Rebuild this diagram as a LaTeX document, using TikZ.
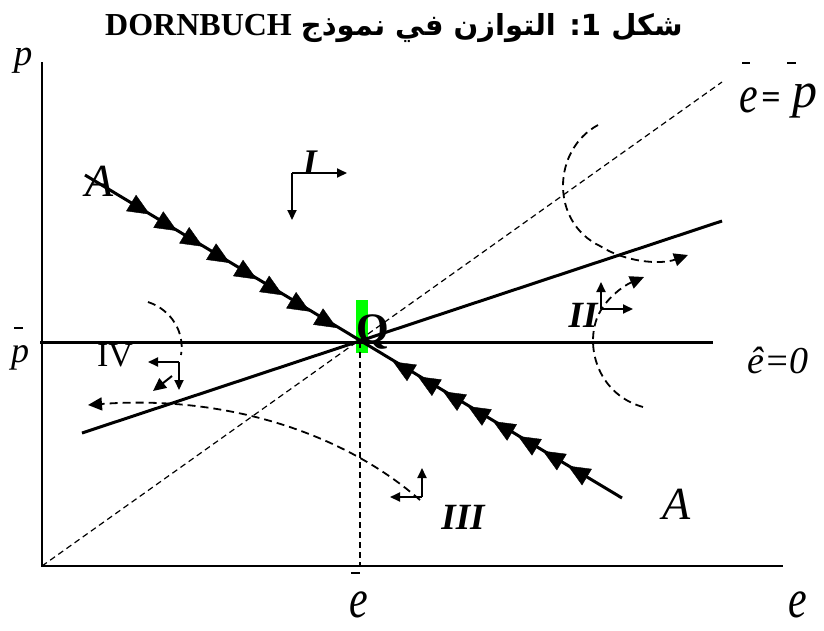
\documentclass[tikz,border=0pt]{standalone}
\usepackage{fontspec}
\setmainfont{Liberation Serif}
\newfontfamily\serif{Liberation Serif}
\newfontfamily\arabicfont[Script=Arabic]{DejaVu Sans}
\usetikzlibrary{arrows.meta,decorations.markings}
\TeXXeTstate=1
\tikzset{sdtip/.tip={Triangle[length=22pt,width=19pt]}}
\begin{document}
\begin{tikzpicture}[x=1pt,y=-1pt,
  axisline/.style={line width=1.4pt},
  mainline/.style={line width=3pt},
  guide/.style={line width=1.2pt, dash pattern=on 6pt off 4pt},
  dashcurve/.style={line width=1.8pt, dash pattern=on 8pt off 5pt, -{Triangle[length=14pt,width=13pt]}},
  dashplain/.style={line width=1.8pt, dash pattern=on 8pt off 5pt},
  dirarrow/.style={line width=2pt, -{Triangle[length=10pt,width=9pt]}},
  lbl/.style={inner sep=0pt},
  saddle/.style={decorate, decoration={markings,
     mark=at position 0.236 with {\arrow{sdtip}},
     mark=at position 0.335 with {\arrow{sdtip}},
     mark=at position 0.429 with {\arrow{sdtip}},
     mark=at position 0.527 with {\arrow{sdtip}},
     mark=at position 0.625 with {\arrow{sdtip}},
     mark=at position 0.720 with {\arrow{sdtip}},
     mark=at position 0.818 with {\arrow{sdtip}},
     mark=at position 0.916 with {\arrow{sdtip}}}},
  saddleb/.style={decorate, decoration={markings,
     mark=at position 0.206 with {\arrow{sdtip}},
     mark=at position 0.302 with {\arrow{sdtip}},
     mark=at position 0.397 with {\arrow{sdtip}},
     mark=at position 0.492 with {\arrow{sdtip}},
     mark=at position 0.588 with {\arrow{sdtip}},
     mark=at position 0.683 with {\arrow{sdtip}},
     mark=at position 0.779 with {\arrow{sdtip}},
     mark=at position 0.874 with {\arrow{sdtip}}}}
]
\fill[white] (0,0) rectangle (824,630);
\useasboundingbox (0,0) rectangle (824,630);

% title
\node[lbl, anchor=base west] (title) at (105,35)
  {{\serif\bfseries\fontsize{32}{32}\selectfont DORNBUCH}\hspace{9pt}{\arabicfont\bfseries\fontsize{29}{29}\selectfont\beginR شكل 1: التوازن في نموذج\endR}};

% key points
\coordinate (O) at (42,566);
\coordinate (Ytop) at (42,62);
\coordinate (Xend) at (783,566);
\coordinate (Q) at (360,342);
\coordinate (Qfoot) at (360,566);
\coordinate (Dend) at (722,82);
\coordinate (Hl) at (40,342);
\coordinate (Hr) at (713,342);
\coordinate (Pl) at (82,433);
\coordinate (Pr) at (722,221);
\coordinate (A1) at (85,175);
\coordinate (A2) at (622,498);

% green marker
\fill[green] (356,300) rectangle (368,353);

% axes
\draw[axisline] (Ytop) -- (O) -- (Xend);

% guides
\draw[guide] (O) -- (Dend);
\draw[guide] (Q) -- (Qfoot);

% main lines
\draw[mainline] (Hl) -- (Hr);
\draw[mainline] (Pl) -- (Pr);
\draw[mainline] (A1) -- (A2);
\path[saddle] (A1) -- (Q);
\path[saddleb] (A2) -- (Q);

% Q label
\node[lbl, anchor=base west, font=\serif\bfseries\fontsize{42}{42}\selectfont] (qlab) at (356,342) {Q};

% axis labels
\node[lbl, font=\serif\itshape\fontsize{37}{37}\selectfont] (plab) at (23,61) {p};
\draw[line width=1.5pt] (14,328) -- (23,328);
\node[lbl, font=\serif\itshape\fontsize{36}{36}\selectfont] (pbar) at (20,358) {p};
\draw[line width=1.5pt] (351,573) -- (360,573);
\node[lbl, font=\serif\itshape\fontsize{42}{42}\selectfont] (ebar) at (359,605) {\scalebox{1}[1.3]{e}};
\node[lbl, font=\serif\itshape\fontsize{42}{42}\selectfont] (elab) at (798,605) {\scalebox{1}[1.3]{e}};

% e = p label
\draw[line width=2pt] (742,63) -- (750,63);
\draw[line width=2pt] (787,63) -- (796,63);
\node[lbl, font=\serif\itshape\fontsize{42}{42}\selectfont] (eq1) at (749,100) {\scalebox{1}[1.25]{e}};
\node[lbl, font=\serif\bfseries\fontsize{34}{34}\selectfont] (eq2) at (771,101) {=};
\node[lbl, font=\serif\itshape\fontsize{50}{50}\selectfont] (eq3) at (805,101) {p};

% e-hat = 0
\node[lbl, font=\serif\itshape\fontsize{38}{38}\selectfont] (ehat) at (778,360) {ê=0};

% A labels
\node[lbl, font=\serif\itshape\fontsize{46}{46}\selectfont] (Atop) at (100,181) {A};
\node[lbl, font=\serif\itshape\fontsize{46}{46}\selectfont] (Abot) at (677,504) {A};

% region labels
\node[lbl, font=\serif\bfseries\itshape\fontsize{36}{36}\selectfont] (r1) at (310,163) {I};
\node[lbl, font=\serif\bfseries\itshape\fontsize{37}{37}\selectfont] (r2) at (583,315) {II};
\node[lbl, font=\serif\bfseries\itshape\fontsize{37}{37}\selectfont] (r3) at (463,517) {III};
\node[lbl, font=\serif\fontsize{34}{34}\selectfont] (r4) at (115,356) {IV};

% direction arrows
\coordinate (c1) at (292,173); \coordinate (c1r) at (347,173); \coordinate (c1d) at (292,220);
\draw[dirarrow] (c1) -- (c1r);
\draw[dirarrow] (c1) -- (c1d);
\coordinate (c2) at (601,309); \coordinate (c2r) at (633,309); \coordinate (c2u) at (601,282);
\draw[dirarrow] (c2) -- (c2r);
\draw[dirarrow] (c2) -- (c2u);
\coordinate (c3) at (422,497); \coordinate (c3l) at (390,497); \coordinate (c3u) at (422,468);
\draw[dirarrow] (c3) -- (c3l);
\draw[dirarrow] (c3) -- (c3u);
\coordinate (c4) at (179,362); \coordinate (c4l) at (148,362); \coordinate (c4d) at (179,390);
\draw[dirarrow] (c4) -- (c4l);
\draw[dirarrow] (c4) -- (c4d);
\coordinate (c4a) at (172,376); \coordinate (c4b) at (153,391);
\draw[line width=2pt, -{Triangle[length=13pt,width=12pt]}] (c4a) -- (c4b);

% dashed trajectories
\coordinate (t1s) at (598,125); \coordinate (t1m) at (600,246); \coordinate (t1e) at (688,255);
\draw[dashcurve] (t1s) .. controls (552,150) and (550,222) .. (t1m) .. controls (625,262) and (660,265) .. (t1e);
\coordinate (t2s) at (643,407); \coordinate (t2m) at (597,318); \coordinate (t2e) at (644,277);
\draw[dashcurve] (t2s) .. controls (600,395) and (585,350) .. (t2m) .. controls (605,298) and (625,285) .. (t2e);
\coordinate (t3s) at (148,302); \coordinate (t3e) at (181,355);
\draw[dashplain] (t3s) .. controls (172,310) and (185,333) .. (t3e);
\coordinate (t4s) at (420,500); \coordinate (t4e) at (88,405);
\draw[dashcurve] (t4s) .. controls (340,430) and (220,395) .. (t4e);
\end{tikzpicture}
\end{document}
